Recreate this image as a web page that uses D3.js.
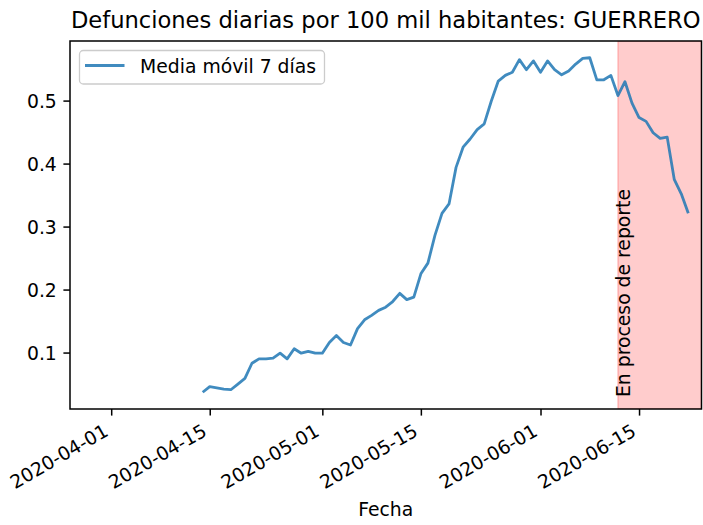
<!DOCTYPE html>
<html>
<head>
<meta charset="utf-8">
<script src="https://cdn.jsdelivr.net/npm/d3@7"></script>
<style>
  html, body { margin: 0; padding: 0; background: #ffffff; }
  svg { display: block; }
  text { font-family: "DejaVu Sans", sans-serif; fill: #000; }
</style>
</head>
<body>
<svg id="chart" width="703" height="525"></svg>
<script>
// ---- data ----
const title = "Defunciones diarias por 100 mil habitantes: GUERRERO";
const xLabel = "Fecha";
const seriesName = "Media móvil 7 días";
const spanLabel = "En proceso de reporte";
const firstDate = "2020-04-14";   // first day of the series (consecutive days)
const values = [
  0.037, 0.046, 0.044, 0.042, 0.041, 0.050, 0.059, 0.083, 0.090, 0.090,
  0.091, 0.099, 0.090, 0.106, 0.099, 0.102, 0.099, 0.099, 0.116, 0.127,
  0.116, 0.112, 0.138, 0.152, 0.159, 0.167, 0.172, 0.181, 0.194, 0.184,
  0.188, 0.225, 0.242, 0.286, 0.321, 0.336, 0.394, 0.426, 0.439, 0.454,
  0.463, 0.499, 0.531, 0.540, 0.545, 0.565, 0.549, 0.563, 0.545, 0.563,
  0.549, 0.541, 0.547, 0.558, 0.567, 0.568, 0.533, 0.533, 0.540, 0.508,
  0.530, 0.496, 0.473, 0.467, 0.449, 0.440, 0.442, 0.375, 0.352, 0.321
];
const xTickLabels = ["2020-04-01", "2020-04-15", "2020-05-01", "2020-05-15", "2020-06-01", "2020-06-15"];
const yTickValues = [0.1, 0.2, 0.3, 0.4, 0.5];
const spanDates = ["2020-06-12", "2020-06-24"];
const xDomain = ["2020-03-26T03:30", "2020-06-23T21:00"];
const yDomain = [0.0104, 0.5946];

// ---- layout ----
const parseD = s => new Date(s.length > 10 ? s : s + "T00:00");
const mL = 70, mR = 701.5, mT = 41, mB = 409;
const FS = 18.8;

const startDay = parseD(firstDate);
const data = values.map((v, i) => ({ date: d3.timeDay.offset(startDay, i), value: v }));

const svg = d3.select("#chart");
const x = d3.scaleTime().domain(xDomain.map(parseD)).range([mL, mR]);
const y = d3.scaleLinear().domain(yDomain).range([mB, mT]);

svg.append("defs").append("clipPath").attr("id", "clip")
  .append("rect").attr("x", mL).attr("y", mT).attr("width", mR - mL).attr("height", mB - mT);

// shaded span
const s0 = x(parseD(spanDates[0])), s1 = Math.min(x(parseD(spanDates[1])), mR);
svg.append("rect")
  .attr("clip-path", "url(#clip)")
  .attr("x", s0).attr("y", mT).attr("width", s1 - s0).attr("height", mB - mT)
  .attr("fill", "rgba(255,0,0,0.2)")
  .attr("stroke", "rgba(255,0,0,0.2)").attr("stroke-width", 1.5);

// span label
svg.append("text")
  .attr("transform", `translate(${s0 + 12.5},${397}) rotate(-90)`)
  .attr("font-size", FS)
  .text(spanLabel);

// line
const line = d3.line().x(d => x(d.date)).y(d => y(d.value));
svg.append("path").datum(data)
  .attr("clip-path", "url(#clip)")
  .attr("fill", "none")
  .attr("stroke", "#1f77b4").attr("stroke-opacity", 0.85)
  .attr("stroke-width", 2.8)
  .attr("stroke-linejoin", "round").attr("stroke-linecap", "butt")
  .attr("d", line);

// axes
const xAxis = d3.axisBottom(x).tickValues(xTickLabels.map(parseD)).tickSize(6.6).tickPadding(6.6).tickFormat(d3.timeFormat("%Y-%m-%d"));
const gx = svg.append("g").attr("transform", `translate(0,${mB})`).call(xAxis);
gx.select(".domain").remove();
gx.selectAll(".tick line").attr("stroke", "#000").attr("stroke-width", 1.5);
gx.selectAll(".tick text")
  .attr("font-size", FS).attr("font-family", "DejaVu Sans").attr("fill", "#000")
  .attr("text-anchor", "end")
  .attr("y", 0).attr("dy", 0)
  .attr("transform", `translate(-2.2,${6.6 + 6.6 + 12.6}) rotate(-30)`);

const yAxis = d3.axisLeft(y).tickValues(yTickValues).tickSize(6.6).tickPadding(6.6).tickFormat(d3.format(".1f"));
const gy = svg.append("g").attr("transform", `translate(${mL},0)`).call(yAxis);
gy.select(".domain").remove();
gy.selectAll(".tick line").attr("stroke", "#000").attr("stroke-width", 1.5);
gy.selectAll(".tick text").attr("font-size", FS).attr("font-family", "DejaVu Sans").attr("fill", "#000").attr("dy", "0.36em");

// spines
svg.append("rect").attr("x", mL).attr("y", mT).attr("width", mR - mL).attr("height", mB - mT)
  .attr("fill", "none").attr("stroke", "#000").attr("stroke-width", 1.5);

// title & label
svg.append("text").attr("x", (mL + mR) / 2).attr("y", 28)
  .attr("text-anchor", "middle").attr("font-size", 22.6).text(title);
svg.append("text").attr("x", (mL + mR) / 2).attr("y", 516)
  .attr("text-anchor", "middle").attr("font-size", FS).text(xLabel);

// legend
const lg = svg.append("g");
lg.append("rect").attr("x", 79.5).attr("y", 50.5).attr("width", 245).attr("height", 33.5)
  .attr("rx", 3.8).attr("fill", "rgba(255,255,255,0.8)").attr("stroke", "#cccccc").attr("stroke-width", 1.3);
lg.append("line").attr("x1", 85).attr("x2", 124.5).attr("y1", 65.5).attr("y2", 65.5)
  .attr("stroke", "#1f77b4").attr("stroke-opacity", 0.85).attr("stroke-width", 2.8);
lg.append("text").attr("x", 140).attr("y", 72.5).attr("font-size", FS).text(seriesName);
</script>
</body>
</html>
